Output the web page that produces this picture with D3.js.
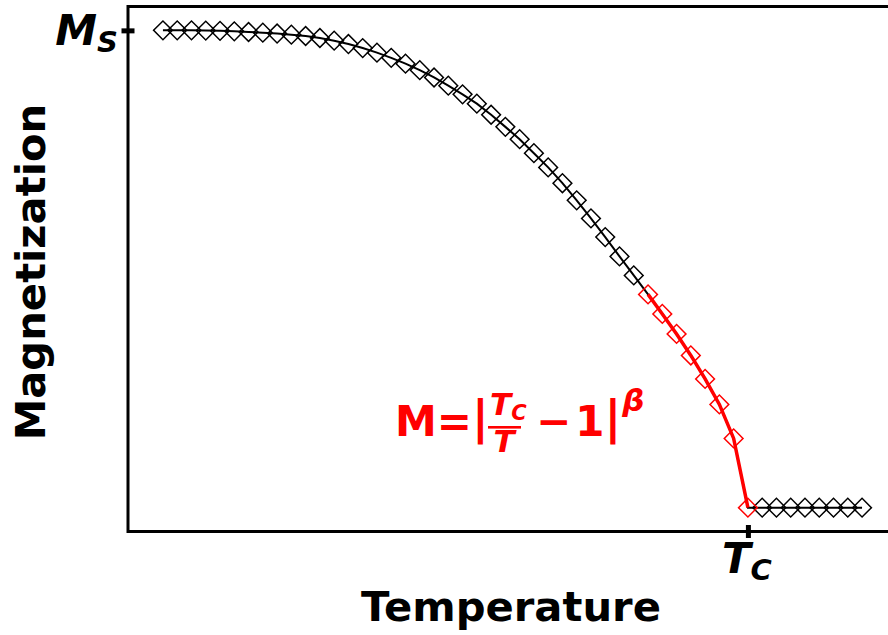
<!DOCTYPE html>
<html>
<head>
<meta charset="utf-8">
<script src="https://cdn.jsdelivr.net/npm/d3@7"></script>
<style>
  html, body { margin: 0; padding: 0; background: #fff; }
  svg { display: block; font-family: "DejaVu Sans", sans-serif; }
</style>
</head>
<body>
<svg id="chart" width="888" height="635"></svg>
<script>
// ---- data ----
const tIndex = [0,1,2,3,4,5,6,7,8,9,10,11,12,13,14,15,16,17,18,19,20,21,22,23,24,
                25,26,27,28,29,30,31,32,33,34,35,36,37,38,39,40,41,42,43,44,45,46,47,48,49];
const magnetization = [1.000,1.000,1.000,0.9995,0.999,0.998,0.9966,0.9952,0.9933,0.991,
                       0.9883,0.9841,0.9784,0.9713,0.9629,0.9533,0.9424,0.9302,0.9166,0.9013,
                       0.8841,0.8659,0.8464,0.8233,0.7978,0.772,0.7427,0.7129,0.6798,0.6438,
                       0.606,0.5668,0.5264,0.4866,0.4468,0.4059,0.364,0.3189,0.2697,0.2163,
                       0.145,0,0,0,0,0,0,0,0,0];
const fitT = [34,35,36,37,38,39,40,41];
const fitM = [0.4468,0.4059,0.364,0.3189,0.2697,0.2163,0.145,0];
const xTickValues = [41];
const yTickValues = [1];
const xLabel = "Temperature";
const yLabel = "Magnetization";

(function () {
const svg = d3.select("#chart");
const pL = 128, pR = 897, pT = 6.5, pB = 531.5;
const x = d3.scaleLinear().domain([-2.45, 51.45]).range([pL, pR]);
const y = d3.scaleLinear().domain([-0.05, 1.05]).range([pB, pT]);

svg.append("defs").append("clipPath").attr("id", "plotclip")
  .append("rect").attr("x", pL).attr("y", pT).attr("width", pR - pL).attr("height", pB - pT);

const pts = tIndex.map((t, i) => ({t, m: magnetization[i]}));
const fitPts = fitT.map((t, i) => ({t, m: fitM[i]}));
const line = d3.line().x(d => x(d.t)).y(d => y(d.m));
const diamond = d3.symbol().type(d3.symbolSquare).size(176);

const plot = svg.append("g").attr("clip-path", "url(#plotclip)");
plot.append("path").datum(pts).attr("d", line)
  .attr("fill", "none").attr("stroke", "#000").attr("stroke-width", 2);
plot.selectAll(".bm").data(pts.filter(d => fitT.indexOf(d.t) < 0)).enter().append("path")
  .attr("class", "bm").attr("d", diamond)
  .attr("transform", d => `translate(${x(d.t)},${y(d.m)}) rotate(45)`)
  .attr("fill", "none").attr("stroke", "#000").attr("stroke-width", 1.5);
plot.append("path").datum(fitPts).attr("d", line)
  .attr("fill", "none").attr("stroke", "#ff0000").attr("stroke-width", 3.5);
plot.selectAll(".rm").data(fitPts).enter().append("path")
  .attr("class", "rm").attr("d", diamond)
  .attr("transform", d => `translate(${x(d.t)},${y(d.m)}) rotate(45)`)
  .attr("fill", "none").attr("stroke", "#ff0000").attr("stroke-width", 1.5);

// ---- axes ----
const xAxis = svg.append("g").attr("transform", `translate(0,${pB})`)
  .call(d3.axisBottom(x).tickValues(xTickValues).tickSize(6.5).tickFormat(""));
const yAxis = svg.append("g").attr("transform", `translate(${pL},0)`)
  .call(d3.axisLeft(y).tickValues(yTickValues).tickSize(6.5).tickFormat(""));
[xAxis, yAxis].forEach(a => a.select(".domain").remove());
xAxis.selectAll(".tick line").attr("y1", -6.5).attr("y2", 6.5).attr("stroke", "#000").attr("stroke-width", 5);
yAxis.selectAll(".tick line").attr("x1", -6.5).attr("x2", 6.5).attr("stroke", "#000").attr("stroke-width", 5);

const frame = svg.append("g").attr("stroke", "#000").attr("stroke-width", 3).attr("fill", "none");
frame.append("line").attr("x1", pL).attr("x2", pL).attr("y1", pT - 1.5).attr("y2", pB + 1.5);
frame.append("line").attr("x1", pL).attr("x2", pR).attr("y1", pT).attr("y2", pT);
frame.append("line").attr("x1", pL).attr("x2", pR).attr("y1", pB).attr("y2", pB);
frame.append("line").attr("x1", pR).attr("x2", pR).attr("y1", pT).attr("y2", pB);

// tick labels
const ms = svg.append("text").attr("x", pL - 10).attr("y", y(yTickValues[0]) + 15)
  .attr("text-anchor", "end").attr("font-weight", "bold").attr("font-style", "italic").attr("fill", "#000");
ms.append("tspan").attr("font-size", 42).text("M");
ms.append("tspan").attr("font-size", 29).attr("dy", 7).text("S");

const tc = svg.append("text").attr("x", x(xTickValues[0]) - 26).attr("y", 573)
  .attr("font-weight", "bold").attr("font-style", "italic").attr("fill", "#000");
tc.append("tspan").attr("font-size", 42).text("T");
tc.append("tspan").attr("font-size", 29).attr("dy", 7).text("C");

// axis labels
svg.append("text").attr("x", 511).attr("y", 621).attr("text-anchor", "middle")
  .attr("font-size", 41.7).attr("font-weight", "bold").attr("fill", "#000").text(xLabel);
svg.append("text").attr("transform", "translate(45,272) rotate(-90)").attr("text-anchor", "middle")
  .attr("font-size", 41.7).attr("font-weight", "bold").attr("fill", "#000").text(yLabel);

// formula annotation
const red = "#ff0000";
const f = svg.append("g").attr("fill", red).attr("font-weight", "bold");
const lhs = f.append("text").attr("x", 395).attr("y", 436).attr("font-size", 42);
lhs.append("tspan").text("M=");
lhs.append("tspan").attr("font-size", 46).attr("dy", -3).text("|");
const num = f.append("text").attr("x", 490).attr("y", 415).attr("font-style", "italic");
num.append("tspan").attr("font-size", 31).text("T");
num.append("tspan").attr("font-size", 21).attr("dy", 5).text("C");
f.append("rect").attr("x", 488).attr("y", 426).attr("width", 33).attr("height", 2.6);
f.append("text").attr("x", 504).attr("y", 452).attr("text-anchor", "middle").attr("font-style", "italic")
  .attr("font-size", 31).text("T");
const rhs = f.append("text").attr("x", 536).attr("y", 436).attr("font-size", 42);
rhs.append("tspan").text("\u2212");
rhs.append("tspan").attr("dx", 4).text("1");
rhs.append("tspan").attr("font-size", 46).attr("dy", -3).text("|");
rhs.append("tspan").attr("font-size", 31).attr("font-style", "italic").attr("dy", -22).attr("dx", 1).text("\u03B2");
})();
</script>
</body>
</html>
